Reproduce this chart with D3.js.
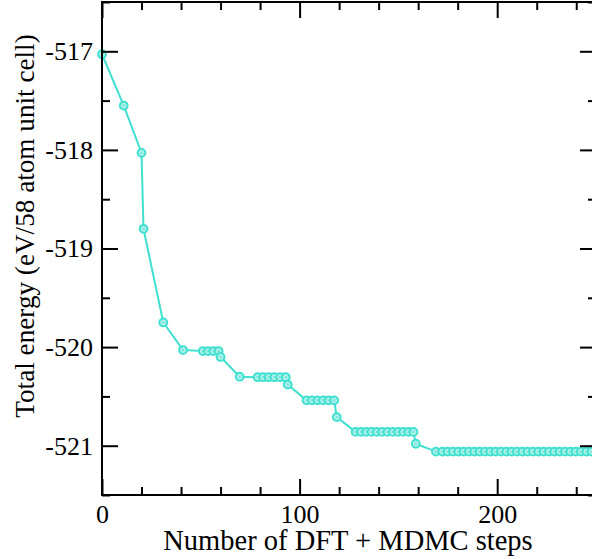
<!DOCTYPE html>
<html>
<head>
<meta charset="utf-8">
<script src="https://cdn.jsdelivr.net/npm/d3@7"></script>
<style>
  html, body { margin: 0; padding: 0; background: #fff; }
  svg { display: block; }
  text { font-family: "Times New Roman", Times, "Liberation Serif", "DejaVu Serif", serif; }
</style>
</head>
<body>
<svg id="chart" width="592" height="559"></svg>
<script>
const steps = [0, 11, 20, 21, 31, 41, 51, 53.7, 56.4, 59, 60, 69.7, 78.8, 81.6, 84.4, 87.3, 90.2, 93, 94,
  103.5, 106.3, 109.1, 111.9, 114.7, 117.5, 118.8,
  128.4, 131.1, 133.8, 136.4, 139.1, 141.8, 144.5, 147.2, 149.9, 152.5, 155.1, 157.6, 158.8,
  169, 172.2, 174.9, 177.6, 180.3, 183, 185.7, 188.4, 191.1, 193.8, 196.5, 199.2, 201.9, 204.6, 207.3,
  210, 212.7, 215.4, 218.1, 220.8, 223.5, 226.2, 228.9, 231.6, 234.3, 237, 239.7, 242.4, 245.1, 247.8, 250.5];
const energies = [-517.03, -517.55, -518.03, -518.8, -519.75, -520.03, -520.04, -520.04, -520.04, -520.04, -520.1,
  -520.3, -520.305, -520.305, -520.305, -520.305, -520.305, -520.305, -520.38,
  -520.54, -520.54, -520.54, -520.54, -520.54, -520.54, -520.71,
  -520.86, -520.86, -520.86, -520.86, -520.86, -520.86, -520.86, -520.86, -520.86, -520.86, -520.86, -520.86, -520.98,
  -521.06, -521.06, -521.06, -521.06, -521.06, -521.06, -521.06, -521.06, -521.06, -521.06, -521.06, -521.06,
  -521.06, -521.06, -521.06, -521.06, -521.06, -521.06, -521.06, -521.06, -521.06, -521.06, -521.06, -521.06,
  -521.06, -521.06, -521.06, -521.06, -521.06, -521.06, -521.06];
const xMajorTicks = [0, 100, 200];
const xMinorTicks = [20, 40, 60, 80, 120, 140, 160, 180, 220, 240];
const yMajorTicks = [-517, -518, -519, -520, -521];
const yMinorTicks = [-516.5, -517.5, -518.5, -519.5, -520.5, -521.5];
const xTitle = "Number of DFT + MDMC steps";
const yTitle = "Total energy (eV/58 atom unit cell)";

const data = steps.map((s, i) => ({x: s, y: energies[i]}));

const L = 102, R = 596, T = 2, B = 495;
const x = d3.scaleLinear().domain([0, 250]).range([L, R]);
const y = d3.scaleLinear().domain([-521.5, -516.5]).range([B, T]);

const svg = d3.select("#chart");
const col = "#40E0D0";
const fmt = d => String(d);

// data line
svg.append("path")
  .datum(data)
  .attr("fill", "none")
  .attr("stroke", col)
  .attr("stroke-width", 2)
  .attr("d", d3.line().x(d => x(d.x)).y(d => y(d.y)));

// markers
const mk = svg.append("g").selectAll("g").data(data).join("g")
  .attr("transform", d => `translate(${x(d.x)},${y(d.y)})`);
mk.append("circle").attr("r", 3.9)
  .attr("fill", "#b5f1eb").attr("stroke", col).attr("stroke-width", 2);
mk.append("path").attr("d", "M-1.4,-1.4L1.4,1.4M-1.4,1.4L1.4,-1.4")
  .attr("stroke", "#5fe2d5").attr("stroke-width", 0.9);

// axes (ticks inward on all sides)
const axW = 2;
function addAxis(axisGen, transform) {
  const g = svg.append("g").attr("transform", transform).call(axisGen);
  g.select(".domain").remove();
  g.selectAll("line").attr("stroke", "#000").attr("stroke-width", axW);
  g.attr("font-family", null);
  return g;
}
// bottom
addAxis(d3.axisBottom(x).tickValues(xMajorTicks).tickSize(-16).tickPadding(10).tickFormat(fmt), `translate(0,${B})`)
  .selectAll("text").attr("font-size", 26).attr("fill", "#000");
addAxis(d3.axisBottom(x).tickValues(xMinorTicks).tickSize(-8).tickFormat(""), `translate(0,${B})`);
// top
addAxis(d3.axisTop(x).tickValues(xMajorTicks).tickSize(-16).tickFormat(""), `translate(0,${T})`);
addAxis(d3.axisTop(x).tickValues(xMinorTicks).tickSize(-8).tickFormat(""), `translate(0,${T})`);
// left
addAxis(d3.axisLeft(y).tickValues(yMajorTicks).tickSize(-16).tickPadding(9).tickFormat(fmt), `translate(${L},0)`)
  .selectAll("text").attr("font-size", 26).attr("fill", "#000");
addAxis(d3.axisLeft(y).tickValues(yMinorTicks).tickSize(-8).tickFormat(""), `translate(${L},0)`);
// right
addAxis(d3.axisRight(y).tickValues(yMajorTicks).tickSize(-16).tickFormat(""), `translate(${R},0)`);
addAxis(d3.axisRight(y).tickValues(yMinorTicks).tickSize(-8).tickFormat(""), `translate(${R},0)`);

// frame
svg.append("rect").attr("x", L).attr("y", T).attr("width", R - L).attr("height", B - T)
  .attr("fill", "none").attr("stroke", "#000").attr("stroke-width", axW);

// titles
svg.append("text").attr("x", 348).attr("y", 550)
  .attr("text-anchor", "middle").attr("font-size", 28.5).attr("fill", "#000")
  .text(xTitle);
svg.append("text").attr("transform", `translate(34,226) rotate(-90)`)
  .attr("text-anchor", "middle").attr("font-size", 27.2).attr("fill", "#000")
  .text(yTitle);
</script>
</body>
</html>
